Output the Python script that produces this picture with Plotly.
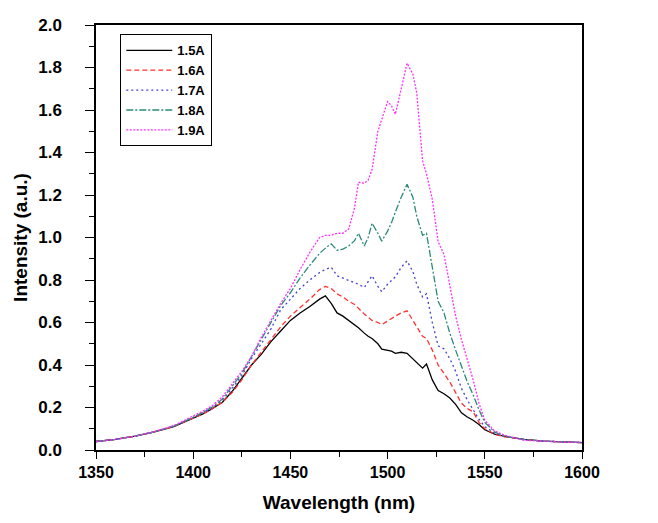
import plotly.graph_objects as go

wavelength = [1350, 1360, 1370, 1380, 1390, 1400, 1405, 1410, 1415, 1420, 1425, 1430, 1435, 1440,
              1445, 1450, 1455, 1460, 1465, 1468, 1471, 1474, 1477, 1480, 1483, 1485, 1488, 1490,
              1492, 1495, 1497, 1500, 1502, 1504, 1507, 1510, 1513, 1515, 1518, 1520, 1523, 1526,
              1529, 1532, 1535, 1538, 1541, 1544, 1547, 1550, 1555, 1560, 1570, 1580, 1590, 1600]

i_15 = [0.040, 0.050, 0.065, 0.085, 0.110, 0.150, 0.170, 0.195, 0.225, 0.275, 0.335, 0.400, 0.450, 0.510,
        0.560, 0.610, 0.645, 0.675, 0.710, 0.725, 0.690, 0.645, 0.630, 0.610, 0.590, 0.575, 0.550, 0.535,
        0.525, 0.500, 0.475, 0.470, 0.465, 0.455, 0.460, 0.455, 0.430, 0.410, 0.385, 0.405, 0.330, 0.280,
        0.265, 0.245, 0.215, 0.175, 0.155, 0.140, 0.120, 0.095, 0.075, 0.065, 0.050, 0.042, 0.038, 0.035]

i_16 = [0.040, 0.050, 0.065, 0.085, 0.110, 0.150, 0.170, 0.195, 0.225, 0.270, 0.330, 0.400, 0.460, 0.520,
        0.580, 0.630, 0.670, 0.710, 0.755, 0.770, 0.760, 0.735, 0.720, 0.700, 0.685, 0.665, 0.640, 0.625,
        0.610, 0.600, 0.590, 0.607, 0.620, 0.630, 0.645, 0.655, 0.610, 0.580, 0.535, 0.525, 0.470, 0.400,
        0.360, 0.320, 0.270, 0.220, 0.195, 0.180, 0.130, 0.100, 0.075, 0.062, 0.050, 0.042, 0.038, 0.035]

i_17 = [0.040, 0.050, 0.065, 0.085, 0.112, 0.152, 0.175, 0.200, 0.235, 0.290, 0.350, 0.430, 0.500, 0.570,
        0.660, 0.710, 0.760, 0.800, 0.835, 0.850, 0.860, 0.820, 0.810, 0.800, 0.790, 0.780, 0.765, 0.790,
        0.820, 0.770, 0.745, 0.780, 0.800, 0.815, 0.860, 0.890, 0.840, 0.780, 0.720, 0.735, 0.600, 0.490,
        0.476, 0.430, 0.370, 0.290, 0.235, 0.190, 0.145, 0.110, 0.080, 0.065, 0.050, 0.042, 0.038, 0.035]

i_18 = [0.040, 0.050, 0.065, 0.085, 0.112, 0.153, 0.178, 0.203, 0.240, 0.300, 0.360, 0.440, 0.520, 0.600,
        0.680, 0.740, 0.810, 0.870, 0.925, 0.950, 0.970, 0.940, 0.945, 0.960, 0.985, 1.020, 0.960, 1.000,
        1.067, 1.020, 0.983, 1.030, 1.070, 1.120, 1.190, 1.250, 1.190, 1.100, 1.010, 1.020, 0.850, 0.700,
        0.645, 0.550, 0.470, 0.390, 0.320, 0.260, 0.190, 0.130, 0.085, 0.065, 0.050, 0.042, 0.038, 0.035]

i_19 = [0.040, 0.050, 0.065, 0.087, 0.115, 0.158, 0.183, 0.210, 0.250, 0.310, 0.370, 0.440, 0.530, 0.610,
        0.690, 0.760, 0.850, 0.930, 1.000, 1.010, 1.010, 1.020, 1.020, 1.040, 1.140, 1.260, 1.255, 1.270,
        1.320, 1.500, 1.560, 1.640, 1.620, 1.580, 1.700, 1.820, 1.770, 1.680, 1.360, 1.300, 1.180, 0.980,
        0.920, 0.780, 0.630, 0.520, 0.430, 0.330, 0.220, 0.140, 0.090, 0.070, 0.046, 0.040, 0.037, 0.035]

series_names = ["1.5A", "1.6A", "1.7A", "1.8A", "1.9A"]
series_values = [i_15, i_16, i_17, i_18, i_19]
series_colors = ["#000000", "#ff3030", "#4040d0", "#2a8a7a", "#ff30ff"]
series_dash = ["solid", "5px,3px", "2px,3px", "7px,2px,2px,2px", "2px,1.5px"]

fig = go.Figure()
for name, vals, col, dash in zip(series_names, series_values, series_colors, series_dash):
    fig.add_trace(go.Scatter(x=wavelength, y=vals, mode="lines", name=name,
                             line=dict(color=col, width=1.3, dash=dash)))

font_fam = "Liberation Sans, Arial, sans-serif"
fig.update_layout(
    width=658, height=523,
    margin=dict(l=88, r=84, t=8, b=81),
    paper_bgcolor="white", plot_bgcolor="white",
    font=dict(family=font_fam, color="black"),
    showlegend=True,
    legend=dict(x=0.05, y=0.978, xanchor="left", yanchor="top",
                bordercolor="black", borderwidth=1, bgcolor="white",
                font=dict(size=13, family=font_fam, weight="bold"),
                itemwidth=46),
)
fig.update_xaxes(range=[1350, 1600], tickvals=[1350, 1400, 1450, 1500, 1550, 1600],
                 showline=True, linecolor="black", linewidth=1.5, mirror=True,
                 ticks="outside", ticklen=7, tickwidth=1.3, tickcolor="black",
                 minor=dict(ticks="outside", ticklen=5, tickwidth=1.2, tickcolor="black", dtick=25),
                 showgrid=False, zeroline=False,
                 tickfont=dict(size=16, weight="bold"),
                 title=dict(text="Wavelength (nm)", font=dict(size=19, weight="bold"), standoff=16))
fig.update_yaxes(range=[0, 2.0], tickvals=[0, 0.2, 0.4, 0.6, 0.8, 1.0, 1.2, 1.4, 1.6, 1.8, 2.0],
                 tickformat=".1f", ticklabeloverflow="allow",
                 showline=True, linecolor="black", linewidth=1.5, mirror=True,
                 ticks="outside", ticklen=9, tickwidth=1.3, tickcolor="black",
                 minor=dict(ticks="outside", ticklen=5, tickwidth=1.2, tickcolor="black", dtick=0.1),
                 showgrid=False, zeroline=False, ticklabelstandoff=20,
                 tickfont=dict(size=17, weight="bold"),
                 title=dict(text="Intensity (a.u.)", font=dict(size=19, weight="bold"), standoff=6))

fig.write_html("out.html")
